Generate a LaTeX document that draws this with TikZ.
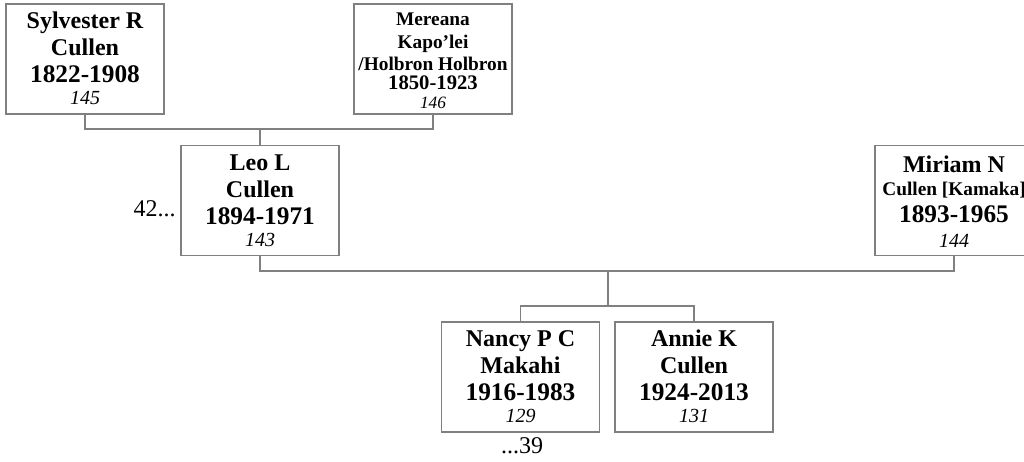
\documentclass[tikz,border=0pt]{standalone}
\usepackage{fontspec}
\setmainfont{Liberation Serif}
\begin{document}
\begin{tikzpicture}[x=0.75pt,y=-0.75pt,
  person/.style={draw=linegray, line width=1pt, fill=white, minimum width=118.5pt, minimum height=82.5pt, inner sep=0pt},
  conn/.style={draw=linegray, line width=1pt},
  nm/.style={anchor=base, inner sep=0pt, font=\fontsize{18}{20}\selectfont\bfseries},
  nmsmall/.style={anchor=base, inner sep=0pt, font=\fontsize{14.5}{16}\selectfont\bfseries},
  yr/.style={anchor=base, inner sep=0pt, text depth=0pt, font=\fontsize{19}{21}\selectfont\bfseries},
  yrsmall/.style={anchor=base, inner sep=0pt, text depth=0pt, font=\fontsize{15.5}{17}\selectfont\bfseries},
  num/.style={anchor=base, inner sep=0pt, text height=10pt, font=\fontsize{15}{17}\selectfont\itshape},
  numsmall/.style={anchor=base, inner sep=0pt, text height=8.5pt, font=\fontsize{13}{15}\selectfont\itshape},
  more/.style={inner sep=0pt, font=\fontsize{18}{20}\selectfont}]
\definecolor{linegray}{RGB}{128,128,128}
\useasboundingbox (0,0) rectangle (1024,461);
\clip (0,0) rectangle (1024,461);
% boxes
\node[person] (syl) at (85,59) {};
\node[person] (mer) at (433,59) {};
\node[person] (leo) at (260,200.5) {};
\node[person] (mir) at (954,200.5) {};
\node[person] (nan) at (520.5,377) {};
\node[person] (ann) at (694,377) {};
% connectors
\coordinate (p1) at (260,129);
\coordinate (p2) at (608,271);
\coordinate (c1) at (608,306);
\draw[conn] (syl.south) |- (p1) -| (mer.south);
\draw[conn] (p1) -- (leo.north);
\draw[conn] (leo.south) |- (p2) -| (mir.south);
\draw[conn] (p2) -- (c1);
\draw[conn] (nan.north) |- (c1) -| (ann.north);
% Sylvester
\node[nm] (syl1) at (85,28) {Sylvester R};
\node[nm] (syl2) at (85,55) {Cullen};
\node[yr] (syl3) at (85,82) {1822-1908};
\node[num] (syl4) at (85,104) {145};
% Mereana
\node[nmsmall] (mer1) at (433,25) {Mereana};
\node[nmsmall] (mer2) at (433,48) {Kapo'lei};
\node[nmsmall] (mer3) at (433,70) {/Holbron Holbron};
\node[yrsmall] (mer4) at (433,89) {1850-1923};
\node[numsmall] (mer5) at (433,108) {146};
% Leo
\node[nm] (leo1) at (260,170) {Leo L};
\node[nm] (leo2) at (260,197) {Cullen};
\node[yr] (leo3) at (260,224) {1894-1971};
\node[num] (leo4) at (260,246) {143};
% Miriam
\node[nm] (mir1) at (954,172) {Miriam N};
\node[nmsmall] (mir2) at (954,195) {Cullen [Kamaka]};
\node[yr] (mir3) at (954,222) {1893-1965};
\node[num] (mir4) at (954,247) {144};
% Nancy
\node[nm] (nan1) at (520.5,346) {Nancy P C};
\node[nm] (nan2) at (520.5,373) {Makahi};
\node[yr] (nan3) at (520.5,400) {1916-1983};
\node[num] (nan4) at (520.5,422) {129};
% Annie
\node[nm] (ann1) at (694,346) {Annie K};
\node[nm] (ann2) at (694,373) {Cullen};
\node[yr] (ann3) at (694,400) {1924-2013};
\node[num] (ann4) at (694,422) {131};
% continuation marks
\node[more, anchor=base east] (leomore) at (176,216) {42...};
\node[more, anchor=base] (nanmore) at (522,453) {...39};
\end{tikzpicture}
\end{document}
